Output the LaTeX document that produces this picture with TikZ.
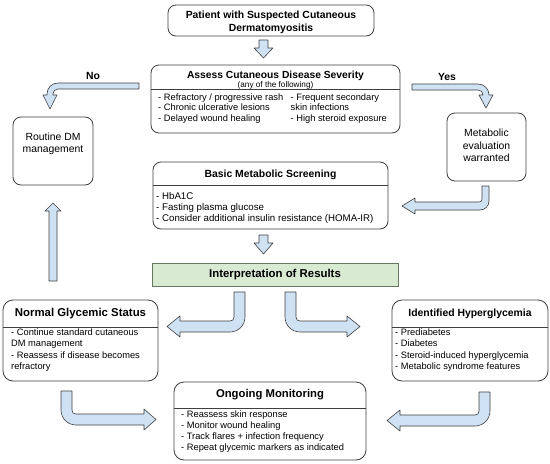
\documentclass[tikz,border=0pt]{standalone}
\usepackage{fontspec}
\setmainfont{Liberation Sans}
\definecolor{arrowfill}{HTML}{CFE2F3}
\definecolor{lineg}{HTML}{3F3F3F}
\definecolor{greenfill}{HTML}{D9EAD3}
\definecolor{greenline}{HTML}{66775F}
\tikzset{
  box/.style={draw=lineg, line width=0.8pt, rounded corners=8pt, fill=white, inner sep=0pt},
  barrow/.style={draw=lineg, line width=0.6pt, fill=arrowfill, line join=round},
  ttl/.style={inner sep=0pt, align=center},
  lst/.style={inner sep=0pt, align=left, anchor=west},
  divider/.style={draw=lineg, line width=0.6pt},
}
\newcommand{\fs}[2]{\fontsize{#1}{#2}\selectfont}
\begin{document}
\begin{tikzpicture}[x=1pt,y=-1pt]
\useasboundingbox[fill=white] (0,0) rectangle (550,464);

% boxes
\node[box, minimum width=206pt, minimum height=31pt] (patient) at (271,20.5) {};
\node[box, minimum width=249pt, minimum height=68pt] (assess) at (275.5,99) {};
\node[box, minimum width=80pt, minimum height=68pt] (routine) at (53,151) {};
\node[box, minimum width=79pt, minimum height=68pt] (metab) at (486.5,147) {};
\node[box, minimum width=235pt, minimum height=67pt] (basic) at (270.5,195.5) {};
\node[draw=greenline, line width=0.8pt, fill=greenfill, inner sep=0pt, minimum width=246pt, minimum height=23pt] (interp) at (275,274.5) {};
\node[box, rounded corners=10pt, minimum width=155pt, minimum height=81pt] (normal) at (80.5,340.5) {};
\node[box, rounded corners=10pt, minimum width=156pt, minimum height=81pt] (hyper) at (470,340.5) {};
\node[box, rounded corners=10pt, minimum width=192pt, minimum height=78pt] (ongoing) at (270,421) {};

% dividers
\coordinate (d1) at (0,89);
\coordinate (d2) at (0,185);
\coordinate (d3) at (0,327);
\coordinate (d4) at (0,408);
\draw[divider] (assess.west |- d1) -- (assess.east |- d1);
\draw[divider] (basic.west |- d2) -- (basic.east |- d2);
\draw[divider] (normal.west |- d3) -- (normal.east |- d3);
\draw[divider] (hyper.west |- d3) -- (hyper.east |- d3);
\draw[divider] (ongoing.west |- d4) -- (ongoing.east |- d4);

% texts
\node[ttl, font=\bfseries\fs{10.4}{13}] (tpatient) at (271,22) {Patient with Suspected Cutaneous\\Dermatomyositis};
\node[ttl, font=\bfseries\fs{10.3}{12}] (tassess) at (275.5,76) {Assess Cutaneous Disease Severity};
\node[ttl, font=\fs{8.2}{9}] (tany) at (275.5,85) {(any of the following)};
\node[lst, font=\fs{9.3}{10.7}] (lassess1) at (158,108.5) {- Refractory / progressive rash\\- Chronic ulcerative lesions\\- Delayed wound healing};
\node[lst, font=\fs{9.3}{10.7}] (lassess2) at (290.5,108.5) {- Frequent secondary\\skin infections\\- High steroid exposure};
\node[ttl, font=\fs{10.4}{12}] (troutine) at (53,144) {Routine DM\\management};
\node[ttl, font=\fs{10.4}{12.5}] (tmetab) at (486.5,145.5) {Metabolic\\evaluation\\warranted};
\node[ttl, font=\bfseries\fs{10.4}{12}] (tbasic) at (270.5,175) {Basic Metabolic Screening};
\node[lst, font=\fs{9.7}{11}] (lbasic) at (156,208) {- HbA1C\\- Fasting plasma glucose\\- Consider additional insulin resistance (HOMA-IR)};
\node[ttl, font=\bfseries\fs{11.4}{13}] (tinterp) at (275,275) {Interpretation of Results};
\node[ttl, font=\bfseries\fs{11.4}{13}] (tnormal) at (80.5,314) {Normal Glycemic Status};
\node[lst, font=\fs{9.3}{11.5}] (lnormal) at (11,350) {- Continue standard cutaneous\\DM management\\- Reassess if disease becomes\\refractory};
\node[ttl, font=\bfseries\fs{10.4}{12}] (thyper) at (470,314) {Identified Hyperglycemia};
\node[lst, font=\fs{9.3}{11.4}] (lhyper) at (395,350) {- Prediabetes\\- Diabetes\\- Steroid-induced hyperglycemia\\- Metabolic syndrome features};
\node[ttl, font=\bfseries\fs{11.3}{13}] (tongoing) at (270,394.5) {Ongoing Monitoring};
\node[lst, font=\fs{9.3}{11}] (longoing) at (181,431.5) {- Reassess skin response\\- Monitor wound healing\\- Track flares + infection frequency\\- Repeat glycemic markers as indicated};
\node[ttl, font=\bfseries\fs{10.4}{12}] (tno) at (93,76) {No};
\node[ttl, font=\bfseries\fs{10.4}{12}] (tyes) at (447,77) {Yes};

% block arrows
% patient -> assess
\draw[barrow] (259,40) -- (268,40) -- (268,48) -- (273,48) -- (263.5,58) -- (254,48) -- (259,48) -- cycle;
% basic -> interp
\draw[barrow] (259,235) -- (268,235) -- (268,243) -- (273,243) -- (263.5,254) -- (254,243) -- (259,243) -- cycle;
% normal -> routine (up)
\draw[barrow] (49,281) -- (57,281) -- (57,211) -- (61,211) -- (53,203) -- (45,211) -- (49,211) -- cycle;
% No arrow
\draw[barrow] (139,83) -- (58,83) .. controls (51.9,83) and (47,87.9) .. (47,94) -- (47,95) -- (43,95) -- (50,109) -- (57,95) -- (53,95) -- (53,94) .. controls (53,91) and (55,89) .. (58,89) -- (139,89) -- cycle;
% Yes arrow
\draw[barrow] (412,84) -- (478,84) .. controls (484.1,84) and (489,88.9) .. (489,95) -- (493,95) -- (486,108) -- (479,95) -- (483,95) .. controls (483,92) and (481,90) .. (478,90) -- (412,90) -- cycle;
% metabolic -> basic
\draw[barrow] (482,186) -- (489,186) -- (489,201) .. controls (489,206) and (485,210) .. (480,210) -- (415,210) -- (415,214) -- (402,206) -- (415,198) -- (415,202) -- (479,202) .. controls (481,202) and (482,201) .. (482,199) -- cycle;
% interp -> normal
\draw[barrow] (234,292) -- (245,292) -- (245,317) .. controls (245,325.3) and (238.3,332) .. (230,332) -- (180,332) -- (180,337) -- (167,326.5) -- (180,316) -- (180,321) -- (230,321) .. controls (232.5,321) and (234,319.5) .. (234,317) -- cycle;
% interp -> hyper
\draw[barrow] (285,292) -- (296,292) -- (296,317) .. controls (296,319.5) and (297.5,321) .. (300,321) -- (347,321) -- (347,316) -- (360,326.5) -- (347,337) -- (347,332) -- (300,332) .. controls (291.7,332) and (285,325.3) .. (285,317) -- cycle;
% normal -> ongoing
\draw[barrow] (61,391) -- (72,391) -- (72,410) .. controls (72,412.5) and (73.5,414) .. (76,414) -- (144,414) -- (144,409) -- (156,419.5) -- (144,430) -- (144,425) -- (76,425) .. controls (67.7,425) and (61,418.3) .. (61,410) -- cycle;
% hyper -> ongoing
\draw[barrow] (479,392) -- (490,392) -- (490,411) .. controls (490,419.3) and (483.3,426) .. (475,426) -- (400,426) -- (400,431) -- (387,420.5) -- (400,410) -- (400,415) -- (475,415) .. controls (477.5,415) and (479,413.5) .. (479,411) -- cycle;
\end{tikzpicture}
\end{document}
